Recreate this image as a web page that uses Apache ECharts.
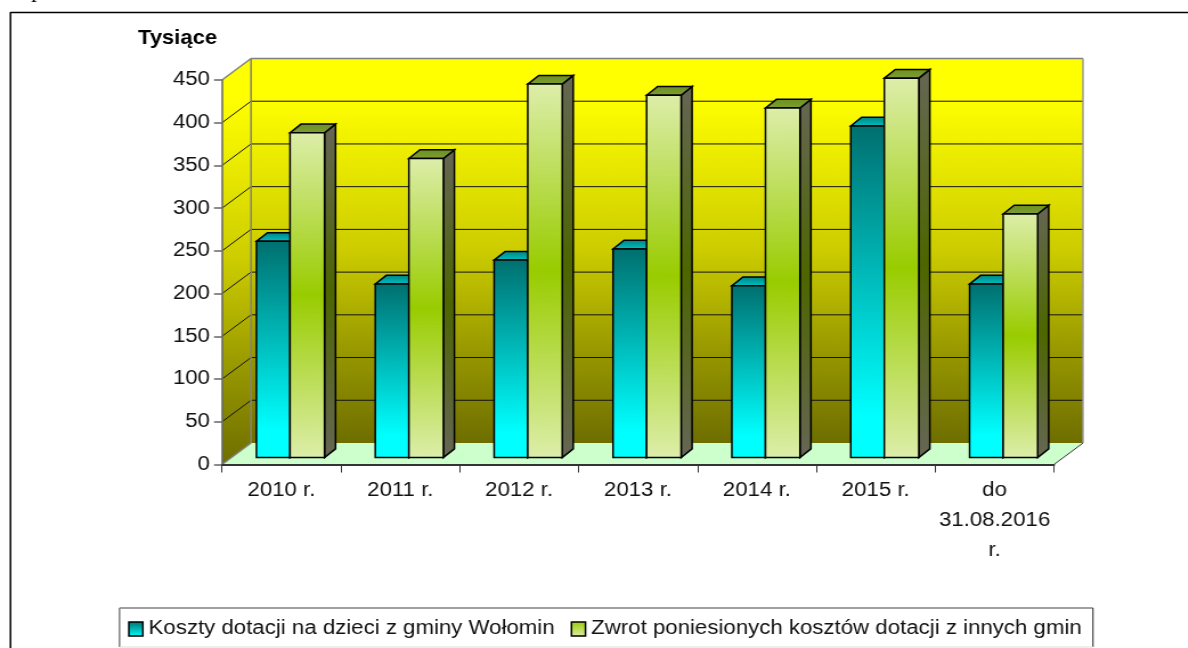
<!DOCTYPE html>
<html><head><meta charset="utf-8">
<script src="https://cdn.jsdelivr.net/npm/echarts@6/dist/echarts.min.js"></script>
<style>
html,body{margin:0;padding:0;background:#fff;overflow:hidden;width:1188px;height:648px}
#c{width:1042.1px;height:648px;transform:scaleX(1.14);transform-origin:0 0}
</style></head><body><div id="c"></div>
<script>
const categories = ['2010 r.','2011 r.','2012 r.','2013 r.','2014 r.','2015 r.','do\n31.08.2016\nr.'];
const kosztyDotacji = [253,203,231,244,201,388,203];
const zwrotKosztow = [380,350,437,424,409,444,285];
const gridTicks = [50,100,150,200,250,300,350,400];
const nameA = 'Koszty dotacji na dzieci z gminy Wołomin';
const nameB = 'Zwrot poniesionych kosztów dotacji z innych gmin';

const S = 1.14;                 // the reference is stretched horizontally
const X = v => v / S;
const FONT = '"Liberation Sans", Arial, sans-serif';
const FS = 19.5;
const vgrad = stops => ({type:'linear',x:0,y:0,x2:0,y2:1,colorStops:stops.map(s=>({offset:s[0],color:s[1]}))});

const WALL_DX = X(29), WALL_DY = -21.5;
const BAR_DX = X(11), BAR_DY = -8.7, BAR_SHIFT_Y = -7;

const wallFill = vgrad([[0,'#FFFF00'],[0.1,'#FFFF00'],[0.5,'#CCCC00'],[0.75,'#9A9A00'],[1,'#6E6E00']]);
const aFront = vgrad([[0,'#006F6F'],[0.87,'#00FFFF'],[1,'#00FFFF']]);
const aTop = vgrad([[0,'#008080'],[1,'#00C4C4']]);
const aSide = vgrad([[0,'#003838'],[1,'#006666']]);
const bFront = vgrad([[0,'#DDEEAA'],[0.5,'#99CC00'],[1,'#DDEEAA']]);
const bTop = vgrad([[0,'#6B8E23'],[1,'#7FA030']]);
const bSide = vgrad([[0,'#666655'],[0.5,'#4D6600'],[1,'#666655']]);

function poly(points, fill, stroke, lw){
  return {type:'polygon',shape:{points},style:{fill,stroke:stroke||'none',lineWidth:lw||0,lineJoin:'miter'}};
}
function seg(x1,y1,x2,y2,stroke,lw){
  return {type:'line',shape:{x1,y1,x2,y2},style:{stroke,lineWidth:lw,fill:'none'}};
}
function renderWalls(params, api){
  const g = params.coordSys, L = g.x, R = g.x + g.width;
  const y0 = api.coord([0,0])[1], yT = api.coord([0,450])[1];
  const bL = L + WALL_DX, bR = R + WALL_DX;
  const kids = [
    poly([[L,y0],[bL,y0+WALL_DY],[bR,y0+WALL_DY],[R,y0]],'#CCFFCC'),
    poly([[L,yT],[bL,yT+WALL_DY],[bL,y0+WALL_DY],[L,y0]],wallFill),
    poly([[bL,yT+WALL_DY],[bR,yT+WALL_DY],[bR,y0+WALL_DY],[bL,y0+WALL_DY]],wallFill)
  ];
  gridTicks.forEach(t=>{
    const y = api.coord([0,t])[1];
    kids.push(seg(L,y,bL,y+WALL_DY,'#111',1));
    kids.push(seg(bL,y+WALL_DY,bR,y+WALL_DY,'#111',1));
  });
  kids.push(seg(L,yT,bL,yT+WALL_DY,'#808080',1.5));
  kids.push(seg(bL,yT+WALL_DY,bR,yT+WALL_DY,'#808080',1.5));
  kids.push(seg(bL,yT+WALL_DY,bL,y0+WALL_DY,'#808080',1.5));
  kids.push(seg(bR,yT+WALL_DY,bR,y0+WALL_DY,'#999',1.5));
  kids.push(seg(L,y0,bL,y0+WALL_DY,'#808080',1.5));
  kids.push(seg(R,y0,bR,y0+WALL_DY,'#333',1));
  return {type:'group',children:kids};
}
function barRenderer(leftOff, rightOff, front, top, side){
  return function(params, api){
    const i = api.value(0), v = api.value(1);
    const cx = api.coord([i,0])[0];
    const yB = api.coord([i,0])[1] + BAR_SHIFT_Y;
    const yT = api.coord([i,v])[1] + BAR_SHIFT_Y;
    const l = cx + X(leftOff), r = cx + X(rightOff);
    const k = '#000', w = 1.5;
    return {type:'group',children:[
      poly([[r,yT],[r+BAR_DX,yT+BAR_DY],[r+BAR_DX,yB+BAR_DY],[r,yB]],side,k,w),
      poly([[l,yT],[l+BAR_DX,yT+BAR_DY],[r+BAR_DX,yT+BAR_DY],[r,yT]],top,k,w),
      poly([[l,yT],[r,yT],[r,yB],[l,yB]],front,k,w)
    ]};
  };
}
const chart = echarts.init(document.getElementById('c'),null,{renderer:'canvas'});
chart.setOption({
  animation:false,
  backgroundColor:'#fff',
  textStyle:{fontFamily:FONT},
  title:{text:'Tysiące',left:X(138),top:29,padding:0,
    textStyle:{fontFamily:FONT,fontWeight:'bold',fontSize:19.3,color:'#000'}},
  grid:{left:X(222),top:80,width:X(832),height:384.5,containLabel:false},
  xAxis:{type:'category',data:categories,z:10,
    axisLine:{lineStyle:{color:'#333',width:2}},
    axisTick:{show:true,length:8,lineStyle:{color:'#333',width:1}},
    axisLabel:{fontFamily:FONT,fontSize:FS,color:'#111',margin:11,lineHeight:30,interval:0},
    splitLine:{show:false}},
  yAxis:{type:'value',min:0,max:450,interval:50,z:10,
    axisLine:{show:true,lineStyle:{color:'#666',width:1.5}},
    axisTick:{show:true,length:X(8),lineStyle:{color:'#666',width:1.5}},
    axisLabel:{fontFamily:FONT,fontSize:FS,color:'#111',margin:X(12)},
    splitLine:{show:false}},
  legend:{left:X(128),top:619,padding:0,itemWidth:X(14),itemHeight:14,itemGap:X(16),
    textStyle:{fontFamily:FONT,fontSize:FS,color:'#111',padding:[0,0,0,0]},
    selectedMode:false,
    data:[
      {name:nameA,icon:'rect',itemStyle:{color:vgrad([[0,'#006F6F'],[1,'#00FFFF']]),borderColor:'#000',borderWidth:1.5}},
      {name:nameB,icon:'rect',itemStyle:{color:vgrad([[0,'#99CC00'],[1,'#DDEEAA']]),borderColor:'#000',borderWidth:1.5}}
    ]},
  graphic:[
    {type:'line',z:-1,shape:{x1:X(10.5),y1:12.5,x2:X(1190),y2:12.5},style:{stroke:'#000',lineWidth:1.5}},
    {type:'line',z:-1,shape:{x1:X(10.5),y1:12,x2:X(10.5),y2:650},style:{stroke:'#000',lineWidth:1.5}},
    {type:'rect',z:-1,shape:{x:X(119.5),y:608,width:X(973.5),height:39},style:{fill:'#fff',stroke:'none'}},
    {type:'line',z:-1,shape:{x1:X(119.5),y1:608,x2:X(1093),y2:608},style:{stroke:'#808080',lineWidth:1.5}},
    {type:'line',z:-1,shape:{x1:X(119.5),y1:608,x2:X(119.5),y2:647},style:{stroke:'#808080',lineWidth:1.5}},
    {type:'line',z:-1,shape:{x1:X(1093),y1:608,x2:X(1093),y2:647},style:{stroke:'#222',lineWidth:1}},
    {type:'line',z:-1,shape:{x1:X(119.5),y1:647,x2:X(1093),y2:647},style:{stroke:'#ddd',lineWidth:1}},
    {type:'text',z:-1,x:X(31),y:-19,style:{text:'p',fontFamily:'"Liberation Serif",serif',fontSize:21,fill:'#000'}}
  ],
  series:[
    {name:'walls',type:'custom',renderItem:renderWalls,data:[[0,0]],z:1,silent:true,tooltip:{show:false}},
    {name:nameA,type:'custom',renderItem:barRenderer(-25,8.6,aFront,aTop,aSide),
     data:kosztyDotacji.map((v,i)=>[i,v]),z:2,itemStyle:{color:'#00CCCC'}},
    {name:nameB,type:'custom',renderItem:barRenderer(8.6,43.1,bFront,bTop,bSide),
     data:zwrotKosztow.map((v,i)=>[i,v]),z:3,itemStyle:{color:'#99CC00'}}
  ]
});
</script></body></html>
